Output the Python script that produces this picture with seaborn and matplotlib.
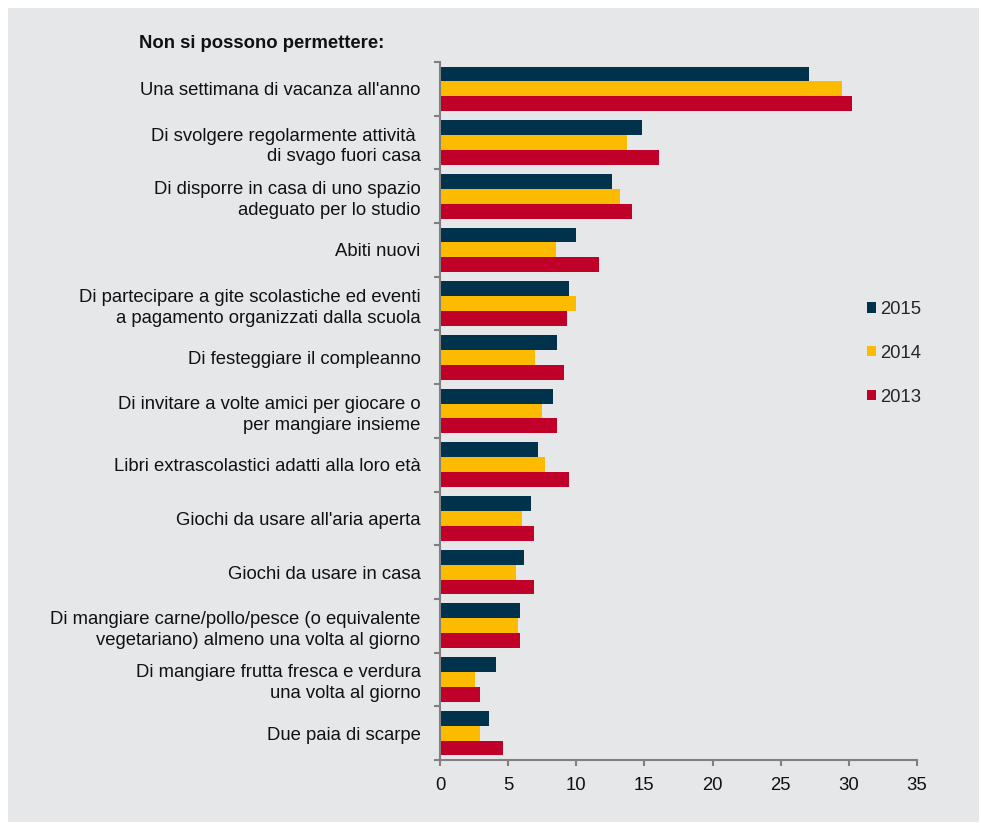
import pandas as pd
import numpy as np
import matplotlib.pyplot as plt
import seaborn as sns
from matplotlib.patches import Rectangle
from matplotlib.ticker import FixedLocator

categories = [
    "Una settimana di vacanza all'anno",
    "Di svolgere regolarmente attività \ndi svago fuori casa",
    "Di disporre in casa di uno spazio\nadeguato per lo studio",
    "Abiti nuovi",
    "Di partecipare a gite scolastiche ed eventi\na pagamento organizzati dalla scuola",
    "Di festeggiare il compleanno",
    "Di invitare a volte amici per giocare o\nper mangiare insieme",
    "Libri extrascolastici adatti alla loro età",
    "Giochi da usare all'aria aperta",
    "Giochi da usare in casa",
    "Di mangiare carne/pollo/pesce (o equivalente\nvegetariano) almeno una volta al giorno",
    "Di mangiare frutta fresca e verdura\nuna volta al giorno",
    "Due paia di scarpe",
]
years = ["2015", "2014", "2013"]
v2015 = [27.1, 14.8, 12.6, 10.0, 9.5, 8.6, 8.3, 7.2, 6.7, 6.2, 5.9, 4.1, 3.6]
v2014 = [29.5, 13.7, 13.2, 8.5, 10.0, 7.0, 7.5, 7.7, 6.0, 5.6, 5.7, 2.6, 2.9]
v2013 = [30.2, 16.1, 14.1, 11.7, 9.3, 9.1, 8.6, 9.5, 6.9, 6.9, 5.9, 2.9, 4.6]
colors = ["#00324b", "#fdbb00", "#c00028"]

df = pd.DataFrame({
    "voce": categories * 3,
    "anno": [y for y in years for _ in categories],
    "valore": v2015 + v2014 + v2013,
})

bg = "#e6e7e9"
fs = 13.3
sns.set_style("white")
plt.rcParams['font.family'] = ['Liberation Sans', 'DejaVu Sans']

fig = plt.figure(figsize=(9.81, 8.23), dpi=100)
fig.patch.set_facecolor("white")
fig.patches.append(Rectangle((8 / 981, 0.001), 971 / 981, 1 - 8 / 823 - 0.001,
                             transform=fig.transFigure, facecolor=bg,
                             edgecolor="none", zorder=-10))

ax = fig.add_axes([440 / 981, 1 - 760 / 823, 477 / 981, 698 / 823])
ax.set_facecolor(bg)

sns.barplot(data=df, y="voce", x="valore", hue="anno", hue_order=years,
            order=categories, palette=colors, orient="h", width=0.83,
            saturation=1, ax=ax, linewidth=0)

ax.set_xlim(0, 35)
ax.set_ylim(len(categories) - 0.5, -0.5)
ax.set_xticks(range(0, 36, 5))
ax.set_xlabel("")
ax.set_ylabel("")

ax.yaxis.set_minor_locator(FixedLocator(np.arange(-0.5, len(categories), 1)))
ax.tick_params(axis="y", which="major", length=0, pad=14, labelsize=fs,
               colors="#111111")
ax.tick_params(axis="y", which="minor", length=4, width=1.5, color="#808080",
               left=True, direction="out")
ax.tick_params(axis="x", length=4, width=1.5, color="#808080", labelsize=fs,
               labelcolor="#111111", pad=8.5, bottom=True, direction="out")
for lab in ax.get_yticklabels():
    lab.set_linespacing(1.3)
    lab.set_horizontalalignment("right")

for side in ["top", "right"]:
    ax.spines[side].set_visible(False)
for side in ["left", "bottom"]:
    ax.spines[side].set_color("#808080")
    ax.spines[side].set_linewidth(1.5)

ax.legend(loc="upper left", bbox_to_anchor=(867 / 981, 1 - 301 / 823),
          bbox_transform=fig.transFigure, frameon=False, fontsize=fs,
          handlelength=0.5, handleheight=0.5, handletextpad=0.2,
          labelspacing=1.45, borderaxespad=0, borderpad=0)

fig.text(139 / 981, 1 - 44 / 823, "Non si possono permettere:", fontsize=fs,
         weight="bold", va="center", ha="left", color="#111111")

fig.savefig("out.png", dpi=100, facecolor=fig.get_facecolor())
